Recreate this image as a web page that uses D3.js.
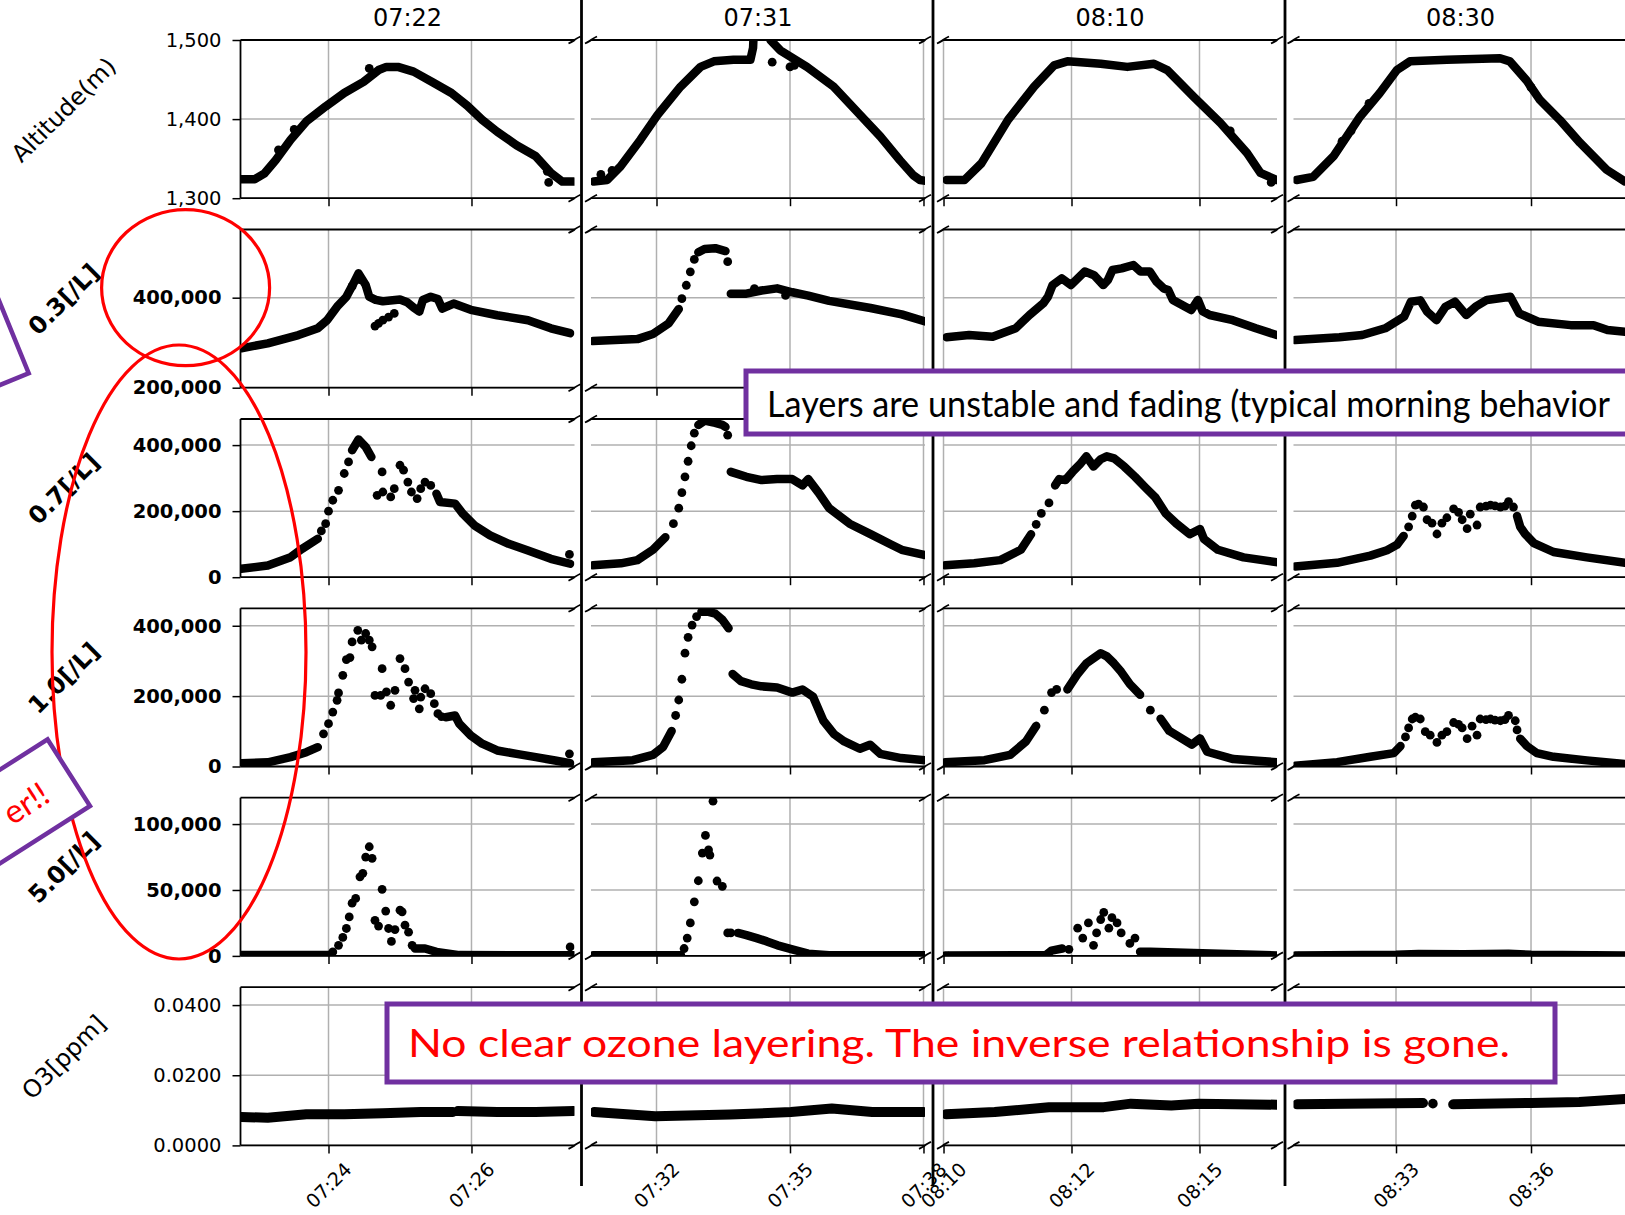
<!DOCTYPE html>
<html><head><meta charset="utf-8">
<script src="https://cdn.jsdelivr.net/npm/d3@7"></script>
<style>body{margin:0;background:#fff}svg{display:block}</style>
</head><body>
<svg id="c" width="1625" height="1215"></svg>
<script>
// ================= DATA (time = minutes after 07:00) =================
const COLUMN_TITLES = ["07:22","07:31","08:10","08:30"];
const ROW_LABELS = ["Altitude(m)","0.3[/L]","0.7[/L]","1.0[/L]","5.0[/L]","O3[ppm]"];
const X_DOMAINS = [[22.769,27.441],[30.528,38.034],[69.99,76.514],[90.722,98.144]];
const X_TICKS = [[24,26],[32,35,38],[70,72.5,75],[93,96]];
const X_TICK_LABELS = [["07:24","07:26"],["07:32","07:35","07:38"],["08:10","08:12","08:15"],["08:33","08:36"]];
const Y_DOMAINS = [[1300,1500],[200000,551500],[0,479000],[0,449600],[0,120000],[0,0.0451]];
const Y_TICKS = [[1300,1400,1500],[200000,400000],[0,200000,400000],[0,200000,400000],[0,50000,100000],[0,0.02,0.04]];
const Y_TICK_LABELS = [["1,300","1,400","1,500"],["200,000","400,000"],["0","200,000","400,000"],["0","200,000","400,000"],["0","50,000","100,000"],["0.0000","0.0200","0.0400"]];

// Altitude [m]
const alt_0722 = [[22.77,1324],[22.97,1324],[23.10,1331],[23.26,1348],[23.47,1374],[23.69,1397],[23.96,1416],[24.22,1433],[24.49,1447],[24.70,1462],[24.81,1466],[24.97,1466],[25.19,1460],[25.45,1447],[25.72,1433],[25.94,1417],[26.15,1399],[26.36,1384],[26.63,1367],[26.90,1353],[27.11,1332],[27.27,1321],[27.43,1321]];
const alt_0722_dots = [[23.30,1361],[23.52,1387],[24.57,1464],[27.06,1334],[27.08,1320]];
const alt_0731 = [[30.59,1321],[30.89,1323],[31.19,1340],[31.64,1374],[32.02,1405],[32.54,1441],[32.99,1466],[33.29,1473],[33.73,1475],[34.11,1475],[34.17,1490],[34.20,1530],null,[34.50,1530],[34.56,1500],[34.78,1487],[35.38,1466],[35.98,1441],[36.58,1405],[37.03,1378],[37.47,1348],[37.77,1329],[37.92,1323],[38.05,1322]];
const alt_0731_dots = [[34.6,1472],[35.0,1466],[35.1,1468],[30.75,1330],[31.0,1335]];
const alt_0810 = [[70.06,1323],[70.41,1323],[70.74,1344],[71.26,1399],[71.77,1441],[72.16,1468],[72.42,1473],[73.07,1470],[73.59,1466],[74.11,1470],[74.37,1462],[74.89,1428],[75.41,1395],[75.93,1357],[76.19,1332],[76.51,1323]];
const alt_0810_dots = [[75.6,1385],[76.4,1320]];
const alt_0830 = [[90.79,1323],[91.16,1327],[91.61,1353],[92.2,1403],[92.64,1433],[93.02,1462],[93.31,1473],[94.13,1475],[95.31,1477],[95.53,1473],[95.9,1449],[96.2,1424],[96.64,1399],[97.09,1370],[97.68,1336],[98.09,1321]];
const alt_0830_dots = [[91.8,1372],[92.0,1385],[92.4,1420],[96.0,1440]];

// 0.3 um [/L]
const c03_0722 = [[22.78,287500],[23.15,298600],[23.58,317000],[23.85,332000],[23.98,350000],[24.12,380000],[24.25,402000],[24.36,435000],[24.42,454000],[24.52,428000],[24.57,402000],[24.66,395000],[24.76,392000],[25.0,396000],[25.1,390000],[25.19,378000],[25.27,369000],[25.32,395000],[25.43,402000],[25.53,397000],[25.59,376000],[25.75,387000],[25.99,373000],[26.36,361000],[26.79,350000],[27.11,332000],[27.38,321000]];
const c03_0722_dots = [[24.65,337000],[24.70,343000],[24.76,350000],[24.84,357000],[24.92,365000],[24.44,440000],[24.33,425000]];
const c03_0731 = [[30.57,303500],[31.57,308000],[31.92,319500],[32.27,342500],[32.5,374700],null,[32.94,501000],[33.08,508000],[33.32,510000],[33.55,503500],null,[33.67,409000],[34.02,409000],[34.36,416000],[34.71,420700],[35.05,412000],[35.41,404600],[35.88,393000],[36.81,377000],[37.51,363000],[38.04,347000]];
const c03_0731_dots = [[32.57,397700],[32.67,427600],[32.76,457500],[32.85,485000],[33.6,480000],[34.2,420000],[34.9,405000]];
const c03_0810 = [[70.06,312000],[70.5,317000],[70.96,313000],[71.41,332000],[71.68,361500],[71.95,387500],[72.04,402000],[72.13,428000],[72.31,443000],[72.49,428000],[72.76,458000],[72.94,450000],[73.12,428000],[73.21,439000],[73.3,461500],[73.48,465000],[73.71,472600],[73.85,458000],[74.03,458000],[74.16,435500],[74.3,420600],[74.39,417000],[74.48,395000],[74.84,372600],[74.97,395000],[75.06,370000],[75.2,361500],[75.65,350000],[76.1,332000],[76.51,317000]];
const c03_0810_dots = [];
const c03_0830 = [[90.76,306000],[91.74,312000],[92.25,317000],[92.76,332000],[93.18,357800],[93.33,391000],[93.54,394000],[93.69,369000],[93.9,350000],[94.1,380000],[94.31,391000],[94.56,361500],[94.77,380000],[95.02,395000],[95.54,402000],[95.74,365000],[96.16,346600],[96.88,339000],[97.39,339000],[97.7,328000],[98.09,324500]];
const c03_0830_dots = [];

// 0.7 um [/L]
const c07_0722 = [[22.78,25500],[23.15,35500],[23.47,60700],[23.63,86000],[23.85,116500],null,[24.33,384500],[24.42,417000],[24.52,394500],[24.6,364000],null,[25.51,253000],[25.56,227600],[25.77,222800],[25.88,192000],[26.04,157000],[26.26,126600],[26.52,101000],[26.79,81000],[27.11,55800],[27.38,40700]];
const c07_0722_dots = [[23.90,140000],[23.96,162000],[24.0,200000],[24.06,233000],[24.14,263000],[24.22,314000],[24.28,349000],[24.75,318700],[24.68,248000],[24.76,258000],[24.87,243000],[24.92,268000],[25.0,339000],[25.05,324000],[25.11,288000],[25.16,258000],[25.24,238000],[25.29,268000],[25.35,288000],[25.43,278000],[27.37,69000]];
const c07_0731 = [[30.57,35900],[31.2,42000],[31.57,51700],[31.92,83000],[32.2,121000],null,[32.94,461000],[33.08,474000],[33.32,467000],[33.48,461000],[33.55,455000],null,[33.67,319000],[34.02,304000],[34.36,294000],[34.71,297000],[35.05,297000],[35.28,278000],[35.41,297000],[35.64,256000],[35.88,209000],[36.34,162000],[36.81,130500],[37.27,99000],[37.51,83000],[38.04,67000]];
const c07_0731_dots = [[32.38,162000],[32.5,209000],[32.57,256000],[32.64,304000],[32.71,351000],[32.78,398000],[32.85,436000],[33.6,430000]];
const c07_0810 = [[70.03,35900],[70.6,42000],[71.11,51700],[71.51,83000],[71.71,130000],null,[72.18,278000],[72.26,297000],[72.38,294000],[72.52,319000],[72.66,341000],[72.79,366000],[72.93,335000],[73.07,357000],[73.19,366000],[73.33,360000],[73.53,335000],[73.74,304000],[73.94,272000],[74.14,241000],[74.34,193000],[74.55,162000],[74.81,130000],[75.01,146000],[75.09,115000],[75.36,83000],[75.86,60000],[76.53,45000]];
const c07_0810_dots = [[71.81,160000],[71.91,193000],[72.06,225000]];
const c07_0830 = [[90.76,32700],[91.69,43600],[92.43,65400],[92.8,81700],[93.02,98000],[93.17,125000],null,[95.69,185000],[95.76,152600],[95.87,130800],[96.06,103500],[96.5,76300],[97.24,60000],[98.09,43600]];
const c07_0830_dots = [[93.28,152600],[93.36,185000],[93.43,218000],[93.5,221000],[93.61,212500],[93.69,174000],[93.8,163500],[93.91,130800],[94.02,163500],[94.13,180000],[94.28,207000],[94.39,196000],[94.47,174000],[94.58,147000],[94.65,190700],[94.8,158000],[94.87,212500],[95.0,215000],[95.1,218000],[95.2,216000],[95.32,212500],[95.42,215000],[95.5,229000],[95.61,212500]];

// 1.0 um [/L]
const c10_0722 = [[22.78,9400],[23.15,12000],[23.47,26500],[23.69,40700],[23.85,55000],null,[25.64,140000],[25.77,145000],[25.83,121600],[25.99,88000],[26.15,64700],[26.36,45600],[26.63,36000],[26.9,26500],[27.17,17000],[27.38,9400]];
const c10_0722_dots = [[23.93,93000],[24.0,121600],[24.06,154700],[24.12,188000],[24.14,209000],[24.2,259000],[24.25,304000],[24.3,309700],[24.33,354000],[24.41,387000],[24.46,359000],[24.52,378000],[24.57,359000],[24.61,340000],[24.65,202000],[24.73,202000],[24.75,278000],[24.81,212000],[24.87,174000],[24.93,216500],[25.0,306800],[25.07,278000],[25.12,240000],[25.19,193000],[25.21,216500],[25.27,164000],[25.29,197000],[25.35,221000],[25.43,207000],[25.48,178600],[25.53,150000],[25.58,142000],[27.37,36000]];
const c10_0731 = [[30.57,12000],[31.47,18000],[31.92,33000],[32.15,56000],[32.34,101000],null,[33.01,440000],[33.15,440000],[33.32,434500],[33.48,417000],[33.62,393000],null,[33.71,263000],[33.9,242500],[34.13,233600],[34.36,227800],[34.71,224800],[35.05,210000],[35.28,219000],[35.52,198000],[35.75,130000],[35.99,92000],[36.22,71200],[36.57,50500],[36.8,62000],[37.03,35700],[37.5,24000],[38.04,18000]];
const c10_0731_dots = [[32.43,145000],[32.5,189000],[32.57,248000],[32.64,322000],[32.71,367000],[32.8,402000],[32.9,426000]];
const c10_0810 = [[70.03,12000],[70.8,18000],[71.3,33000],[71.61,71000],[71.81,115500],null,[72.42,219000],[72.62,263000],[72.79,293000],[72.93,307500],[73.07,322000],[73.19,313000],[73.33,293000],[73.47,269000],[73.64,234000],[73.84,204000],null,[74.24,136000],[74.41,101000],[74.65,80000],[74.85,62000],[75.01,80000],[75.15,42000],[75.66,21000],[76.53,12000]];
const c10_0810_dots = [[71.97,160000],[72.11,210000],[72.21,219000],[74.04,160000]];
const c10_0830 = [[90.76,2000],[91.69,12300],[92.43,27600],[92.95,37900],[93.1,58000],null,[95.76,79000],[95.91,58000],[96.13,38000],[96.5,27600],[97.24,17400],[98.09,7000]];
const c10_0830_dots = [[93.21,84000],[93.28,109500],[93.36,135000],[93.43,140000],[93.54,135000],[93.65,99000],[93.76,89000],[93.91,68500],[94.02,89000],[94.13,99000],[94.28,125000],[94.39,120000],[94.47,109500],[94.58,79000],[94.69,114600],[94.8,89000],[94.87,135000],[95.0,133000],[95.1,135000],[95.2,132000],[95.32,130000],[95.42,133000],[95.5,145000],[95.65,130000],[95.69,104000]];

// 5.0 um [/L]
const c50_0722 = [[22.78,600],[24.02,600],null,[25.21,5600],[25.35,5600],[25.51,3000],[25.83,600],[27.43,400]];
const c50_0722_dots = [[24.06,3000],[24.14,8000],[24.2,14000],[24.25,20800],[24.29,29600],[24.33,40000],[24.38,43600],[24.44,60000],[24.48,62600],[24.52,75000],[24.57,82800],[24.61,74000],[24.65,27000],[24.7,22600],[24.75,50500],[24.8,34000],[24.84,20800],[24.88,11000],[24.93,20000],[25.0,34700],[25.03,33400],[25.07,23300],[25.12,18000],[25.17,8000],[27.38,6800]];
const c50_0731 = [[30.57,500],[32.55,500],null,[33.83,17400],[34.02,15800],[34.25,13500],[34.48,11000],[34.72,8000],[35.07,4800],[35.41,1700],[35.88,500],[38.04,400]];
const c50_0731_dots = [[32.62,5600],[32.69,13500],[32.76,25000],[32.85,41000],[32.94,57000],[33.03,78000],[33.1,91400],[33.27,117400],[33.17,80400],[33.2,76500],[33.36,56800],[33.48,52800],[33.6,17400],[33.67,17400]];
const c50_0810 = [[70.03,300],[72.0,600],[72.11,4000],[72.32,5600],null,[73.84,3200],[74.04,3200],[76.53,300]];
const c50_0810_dots = [[72.45,5000],[72.62,21000],[72.72,13500],[72.83,25000],[72.93,8000],[72.99,17400],[73.07,27600],[73.13,33000],[73.23,21000],[73.29,29000],[73.39,25000],[73.47,17400],[73.64,9500],[73.74,13500]];
const c50_0830 = [[90.76,300],[93.0,800],[93.5,1500],[94.5,1200],[95.5,1600],[96.0,800],[98.09,300]];
const c50_0830_dots = [];

// O3 [ppm]
const o3_0722 = [[22.78,0.0081],[23.15,0.0079],[23.69,0.0089],[24.22,0.0089],[24.76,0.0092],[25.29,0.0095],[25.74,0.0095],null,[25.81,0.0098],[26.36,0.0095],[26.9,0.0095],[27.43,0.0098]];
const o3_0731 = [[30.6,0.0095],[31.97,0.0083],[33.65,0.0088],[35.02,0.0095],[35.94,0.0105],[36.85,0.0095],[38.0,0.0095]];
const o3_0810 = [[70.05,0.0089],[71.0,0.0095],[72.06,0.0109],[73.13,0.0109],[73.66,0.0119],[74.45,0.0114],[74.98,0.0119],[76.51,0.0116]];
const o3_0830 = [[90.8,0.0117],[93.6,0.0121],null,[94.27,0.0117],[96.01,0.0121],[97.07,0.0124],[98.09,0.0132]];
const o3_0830_dots = [[93.82,0.0119]];

// Annotation texts (as visible in the cropped slide)
const NOTE_TOP = "Layers are unstable and fading (typical morning behavior";
const NOTE_BOTTOM = "No clear ozone layering. The inverse relationship is gone.";
const NOTE_SIDE = "er!!";

// ================= LAYOUT =================
const COL_LEFT = [240.5, 591, 943, 1293.5], COL_W = 334;
const ROW_TOP = [40, 229.5, 419, 608.3, 797.7, 987.2], ROW_H = 158.2;
const SEPARATORS = [581.5, 933, 1285];
const FONT = "DejaVu Sans";
const PURPLE = "#7030a0", RED = "#ff0000";

const PANELS = [
  [[alt_0722,alt_0722_dots],[alt_0731,alt_0731_dots],[alt_0810,alt_0810_dots],[alt_0830,alt_0830_dots]],
  [[c03_0722,c03_0722_dots],[c03_0731,c03_0731_dots],[c03_0810,c03_0810_dots],[c03_0830,c03_0830_dots]],
  [[c07_0722,c07_0722_dots],[c07_0731,c07_0731_dots],[c07_0810,c07_0810_dots],[c07_0830,c07_0830_dots]],
  [[c10_0722,c10_0722_dots],[c10_0731,c10_0731_dots],[c10_0810,c10_0810_dots],[c10_0830,c10_0830_dots]],
  [[c50_0722,c50_0722_dots],[c50_0731,c50_0731_dots],[c50_0810,c50_0810_dots],[c50_0830,c50_0830_dots]],
  [[o3_0722,[]],[o3_0731,[]],[o3_0810,[]],[o3_0830,o3_0830_dots]]
];

const svg = d3.select("#c");
svg.append("rect").attr("width",1625).attr("height",1215).attr("fill","#fff");
const defs = svg.append("defs");

ROW_TOP.forEach((top, r) => {
  const bottom = top + ROW_H;
  const y = d3.scaleLinear().domain(Y_DOMAINS[r]).range([bottom, top]);
  COL_LEFT.forEach((left, c) => {
    const right = left + COL_W;
    const x = d3.scaleLinear().domain(X_DOMAINS[c]).range([left, right]);
    const g = svg.append("g");
    const cid = `clip-${r}-${c}`;
    defs.append("clipPath").attr("id", cid).append("rect")
      .attr("x", left).attr("y", top).attr("width", COL_W).attr("height", ROW_H);

    // grid
    g.selectAll("line.vg").data(X_TICKS[c]).join("line").attr("class","vg")
      .attr("x1", d => x(d)).attr("x2", d => x(d)).attr("y1", top).attr("y2", bottom)
      .attr("stroke", "#b0b0b0").attr("stroke-width", 1.5);
    g.selectAll("line.hg").data(Y_TICKS[r]).join("line").attr("class","hg")
      .attr("x1", left).attr("x2", right).attr("y1", d => y(d)).attr("y2", d => y(d))
      .attr("stroke", "#b0b0b0").attr("stroke-width", 1.5);

    // data
    const [lineData, dotData] = PANELS[r][c];
    const dg = g.append("g").attr("clip-path", `url(#${cid})`);
    const line = d3.line().defined(d => d != null).x(d => x(d[0])).y(d => y(d[1]));
    dg.append("path").attr("d", line(lineData)).attr("fill", "none").attr("stroke", "#000")
      .attr("stroke-width", r === 5 ? 10 : 8.5).attr("stroke-linecap", "round").attr("stroke-linejoin", "round");
    dg.selectAll("circle").data(dotData).join("circle")
      .attr("cx", d => x(d[0])).attr("cy", d => y(d[1])).attr("r", r === 5 ? 4.8 : 4.4).attr("fill", "#000");

    // x ticks
    const xa = g.append("g").attr("transform", `translate(0,${bottom})`)
      .call(d3.axisBottom(x).tickValues(X_TICKS[c]).tickSize(8).tickFormat(""));
    xa.select(".domain").remove();
    xa.selectAll(".tick line").attr("stroke", "#000").attr("stroke-width", 1.5);

    // y ticks (first column only)
    if (c === 0) {
      const ya = g.append("g").attr("transform", `translate(${left},0)`)
        .call(d3.axisLeft(y).tickValues(Y_TICKS[r]).tickSize(8).tickPadding(11)
          .tickFormat((d, i) => Y_TICK_LABELS[r][i]));
      ya.select(".domain").remove();
      ya.selectAll(".tick line").attr("stroke", "#000").attr("stroke-width", 1.5);
      ya.selectAll(".tick text").attr("font-family", FONT).attr("font-size", 19.5)
        .attr("font-weight", (r >= 1 && r <= 4) ? "bold" : "normal").attr("fill", "#000");
      g.append("line").attr("x1", left).attr("x2", left).attr("y1", top).attr("y2", bottom)
        .attr("stroke", "#000").attr("stroke-width", 1.8);
    }

    // bottom-row rotated time labels
    if (r === ROW_TOP.length - 1) {
      g.selectAll("text.xl").data(X_TICKS[c]).join("text").attr("class","xl")
        .attr("transform", d => `translate(${x(d)},1185) rotate(-45)`)
        .attr("text-anchor", "middle").attr("dominant-baseline", "central")
        .attr("font-family", FONT).attr("font-size", 19).attr("fill", "#000")
        .text((d, i) => X_TICK_LABELS[c][i]);
    }

    // top / bottom spines
    [top, bottom].forEach(yy => {
      g.append("line").attr("x1", left).attr("x2", right).attr("y1", yy).attr("y2", yy)
        .attr("stroke", "#000").attr("stroke-width", 1.8);
    });

    // break marks
    const marks = [];
    if (c < 3) marks.push([right, top], [right, bottom]);
    if (c > 0) marks.push([left, top], [left, bottom]);
    marks.forEach(([mx, my]) => {
      g.append("path").attr("d", `M${mx-6},${my+3.5} Q${mx-1},${my+1} ${mx},${my} T${mx+6},${my-3.5}`)
        .attr("fill", "none").attr("stroke", "#000").attr("stroke-width", 1.8);
    });
  });

  // row label
  const cy = top + ROW_H / 2 - 9;
  svg.append("text").attr("transform", `translate(64,${cy}) rotate(-45)`)
    .attr("text-anchor", "middle").attr("dominant-baseline", "central")
    .attr("font-family", FONT).attr("font-size", 24)
    .attr("font-weight", (r >= 1 && r <= 4) ? "bold" : "normal")
    .attr("fill", "#000").text(ROW_LABELS[r]);
});

// separators between flights
svg.selectAll("line.sep").data(SEPARATORS).join("line").attr("class","sep")
  .attr("x1", d => d).attr("x2", d => d).attr("y1", 0).attr("y2", 1186)
  .attr("stroke", "#000").attr("stroke-width", 2.8);

// column titles
svg.selectAll("text.title").data(COLUMN_TITLES).join("text").attr("class","title")
  .attr("x", (d, i) => COL_LEFT[i] + COL_W / 2).attr("y", 26)
  .attr("text-anchor", "middle").attr("font-family", FONT).attr("font-size", 24)
  .attr("fill", "#000").text(d => d);

// ================= ANNOTATIONS =================
svg.append("ellipse").attr("cx", 185.6).attr("cy", 287.7).attr("rx", 84).attr("ry", 78)
  .attr("fill", "none").attr("stroke", RED).attr("stroke-width", 3.2);
svg.append("ellipse").attr("cx", 179).attr("cy", 652).attr("rx", 127).attr("ry", 307)
  .attr("fill", "none").attr("stroke", RED).attr("stroke-width", 3.2);

// tilted boxes on the left (mostly cropped)
const boxA = svg.append("g").attr("transform", "translate(28.7,373.3) rotate(-22.2)");
boxA.append("rect").attr("x", -600).attr("y", -79).attr("width", 600).attr("height", 79)
  .attr("fill", "#fff").attr("stroke", PURPLE).attr("stroke-width", 4.5);
const boxB = svg.append("g").attr("transform", "translate(90,806) rotate(-32.5)");
boxB.append("rect").attr("x", -600).attr("y", -79).attr("width", 600).attr("height", 79)
  .attr("fill", "#fff").attr("stroke", PURPLE).attr("stroke-width", 4.5);
boxB.append("text").attr("x", -29).attr("y", -25).attr("text-anchor", "end")
  .attr("font-family", "Lato").attr("font-size", 33).attr("fill", RED).text(NOTE_SIDE);

// "Layers are unstable..." box
svg.append("rect").attr("x", 746).attr("y", 371).attr("width", 900).attr("height", 63)
  .attr("fill", "#fff").attr("stroke", PURPLE).attr("stroke-width", 5);
svg.append("text").attr("x", 767).attr("y", 417).attr("font-family", "Lato").attr("font-size", 37)
  .attr("textLength", 843).attr("lengthAdjust", "spacingAndGlyphs").attr("fill", "#000").text(NOTE_TOP);

// "No clear ozone layering..." box
svg.append("rect").attr("x", 387).attr("y", 1004).attr("width", 1168).attr("height", 78)
  .attr("fill", "#fff").attr("stroke", PURPLE).attr("stroke-width", 5);
svg.append("text").attr("x", 408).attr("y", 1057).attr("font-family", "Lato").attr("font-size", 39.5)
  .attr("textLength", 1102).attr("lengthAdjust", "spacingAndGlyphs").attr("fill", RED).text(NOTE_BOTTOM);
</script>
</body></html>
